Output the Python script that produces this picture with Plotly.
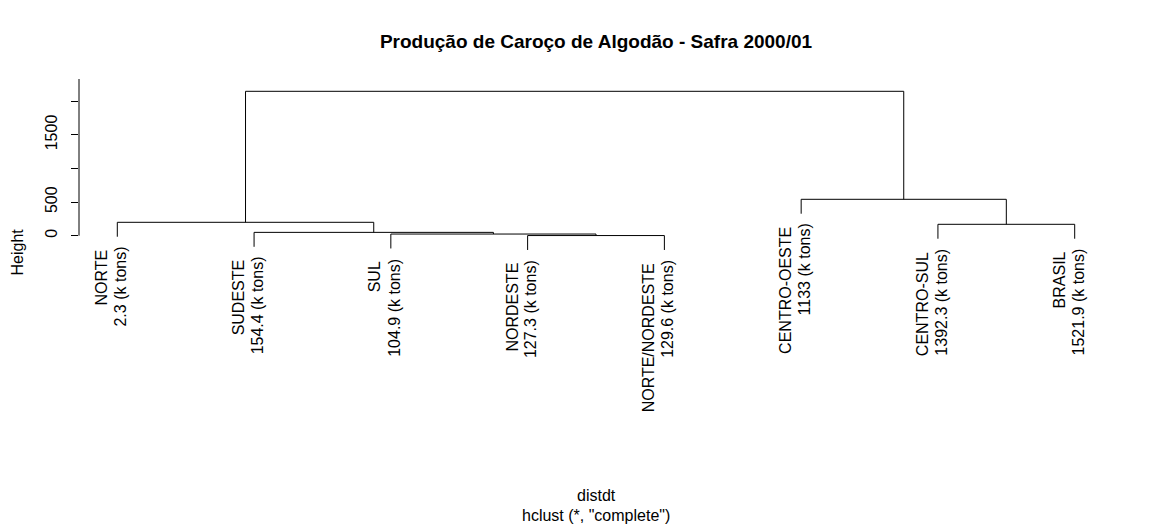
import plotly.graph_objects as go

# ---- data ----
labels = ["NORTE", "SUDESTE", "SUL", "NORDESTE", "NORTE/NORDESTE",
          "CENTRO-OESTE", "CENTRO-SUL", "BRASIL"]
production = [2.3, 154.4, 104.9, 127.3, 129.6, 1133, 1392.3, 1521.9]
# R-style merge matrix: negative = leaf (1-based, plot order), positive = earlier merge step
merge_left = [-4, -3, -2, -7, -1, -6, 5]
merge_right = [-5, 1, 2, -8, 3, 4, 6]
merge_height = [2.3, 24.7, 49.5, 169.6, 199.4, 541.7, 2149]
y_ticks = [0, 500, 1000, 1500, 2000]
y_tick_text = ["0", "500", "", "1500", ""]
HANG = 0.1

FONT = "Liberation Sans, Arial, sans-serif"
Y_RANGE = [-2832, 2332]
X_RANGE = [0.72, 8.28]

hang = HANG * (max(merge_height) - min(merge_height))
node_x = {}
leaf_bottom = {}
xs, ys = [], []


def child_pos(ref, parent_h):
    if ref < 0:
        return -ref, parent_h - hang
    return node_x[ref], merge_height[ref - 1]


for i, (l, r, h) in enumerate(zip(merge_left, merge_right, merge_height), start=1):
    xl, yl = child_pos(l, h)
    xr, yr = child_pos(r, h)
    xs += [xl, xl, xr, xr, None]
    ys += [yl, h, h, yr, None]
    node_x[i] = (xl + xr) / 2
    if l < 0:
        leaf_bottom[-l] = yl
    if r < 0:
        leaf_bottom[-r] = yr

fig = go.Figure()
fig.add_trace(go.Scatter(x=xs, y=ys, mode="lines",
                         line=dict(color="black", width=1),
                         hoverinfo="skip", showlegend=False))

annotations = []
for k, (name, val) in enumerate(zip(labels, production), start=1):
    annotations.append(dict(x=k, y=leaf_bottom[k], xref="x", yref="y",
                            text=name, textangle=-90, showarrow=False,
                            xanchor="center", yanchor="top",
                            xshift=-15.5, yshift=-11,
                            font=dict(family=FONT, size=16, color="black")))
    annotations.append(dict(x=k, y=leaf_bottom[k], xref="x", yref="y",
                            text=f"{val:g} (k tons)", textangle=-90, showarrow=False,
                            xanchor="center", yanchor="top",
                            xshift=3.5, yshift=-8,
                            font=dict(family=FONT, size=16, color="black")))

annotations.append(dict(x=0, y=0.5, xref="paper", yref="paper", text="Height",
                        textangle=-90, showarrow=False, xanchor="center",
                        yanchor="middle", xshift=-62,
                        font=dict(family=FONT, size=16, color="black")))
annotations.append(dict(x=0.5, y=0, xref="paper", yref="paper", text="distdt",
                        showarrow=False, xanchor="center", yanchor="middle",
                        yshift=-69, font=dict(family=FONT, size=16, color="black")))
annotations.append(dict(x=0.5, y=0, xref="paper", yref="paper",
                        text='hclust (*, "complete")',
                        showarrow=False, xanchor="center", yanchor="middle",
                        yshift=-89, font=dict(family=FONT, size=16, color="black")))

# the page body adds an 8 px margin, so the figure is 8 px smaller on each side
fig.update_layout(
    width=1145, height=516,
    margin=dict(l=71, r=40, t=71, b=98, pad=0),
    paper_bgcolor="white", plot_bgcolor="white",
    title=dict(text="<b>Produção de Caroço de Algodão - Safra 2000/01</b>",
               x=0.5, xref="paper", xanchor="center",
               y=1 - 33 / 516, yref="container", yanchor="middle",
               font=dict(family=FONT, size=19, color="black")),
    xaxis=dict(range=X_RANGE, visible=False, fixedrange=True),
    yaxis=dict(range=Y_RANGE, tickmode="array", tickvals=y_ticks, ticktext=y_tick_text,
               ticks="outside", ticklen=7, tickcolor="black", tickwidth=1,
               tickangle=-90, ticklabelstandoff=8,
               tickfont=dict(family=FONT, size=16, color="black"),
               showgrid=False, zeroline=False, showline=False),
    shapes=[dict(type="line", xref="paper", yref="y", x0=0, x1=0,
                 y0=y_ticks[0], y1=Y_RANGE[1], line=dict(color="black", width=1))],
    annotations=annotations,
)

fig.write_html("out.html")
